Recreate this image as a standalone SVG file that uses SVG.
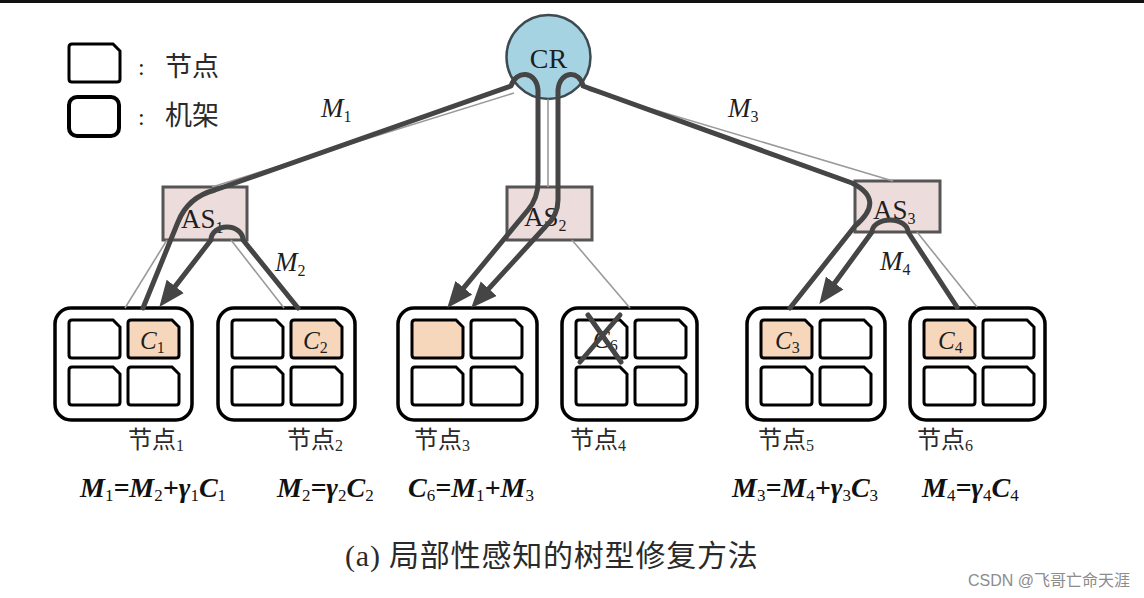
<svg xmlns="http://www.w3.org/2000/svg" width="1144" height="598" viewBox="0 0 1144 598">
  <defs>
    <style>
      .rack{fill:#fff;stroke:#000;stroke-width:3.5}
      .nd{stroke:#000;stroke-width:3}
      .as{fill:#eddcdc;stroke:#555;stroke-width:3}
      .thin{stroke:#9a9a9a;stroke-width:1.6;fill:none}
      .thick{stroke:#454545;stroke-width:5;fill:none;stroke-linejoin:round;stroke-linecap:round}
      .arr{marker-end:url(#ah)}
      .serif{font-family:"Liberation Serif","Noto Sans CJK SC",serif;fill:#1e1e1e}
      .it{font-style:italic}
      .sub{font-size:16px;font-style:normal}
      .cjk{font-family:"Liberation Serif","Noto Sans CJK SC",sans-serif;fill:#2a2a2a}
      .fx{font-family:"Liberation Serif",serif;font-size:28px;font-style:italic;font-weight:bold;fill:#111}
      .fx .s{font-size:17px;font-style:normal;font-weight:normal}
    </style>
    <!-- storage node: square corners except the clipped top-right -->
    <path id="node" d="M0,3 Q0,0 3,0 L44,0 L51,7 L51,35 Q51,38 48,38 L3,38 Q0,38 0,35 Z"/>
    <marker id="ah" markerUnits="userSpaceOnUse" markerWidth="26" markerHeight="22" viewBox="0 0 24 20" refX="10" refY="10" orient="auto">
      <path d="M0,0 L24,10 L0,20 Z" fill="#454545"/>
    </marker>
  </defs>

  <rect x="0" y="0" width="1144" height="598" fill="#fff"/>
  <rect x="0" y="0" width="1144" height="3" fill="#111"/>

  <!-- legend -->
  <g id="legend">
    <use href="#node" class="nd" x="69" y="44" fill="#fff"/>
    <rect x="69" y="97" width="50" height="39" rx="8" fill="#fff" stroke="#000" stroke-width="4"/>
    <text x="138" y="75" class="serif" font-size="24">:</text>
    <text x="165" y="76" class="cjk" font-size="27">节点</text>
    <text x="138" y="125" class="serif" font-size="24">:</text>
    <text x="165" y="125" class="cjk" font-size="27">机架</text>
  </g>

  <!-- core router -->
  <g id="cr">
    <circle cx="548.5" cy="57" r="42" fill="#a6d3e2" stroke="#3d4a50" stroke-width="2.5"/>
    <text x="548.5" y="68" text-anchor="middle" class="serif" font-size="28">CR</text>
  </g>

  <!-- aggregation switches -->
  <g id="as1">
    <rect x="163" y="187" width="84" height="53" class="as"/>
    <text x="181" y="228" class="serif" font-size="27">AS<tspan class="sub" font-size="18" dy="5">1</tspan></text>
  </g>
  <g id="as2">
    <rect x="507" y="187" width="85" height="53" class="as"/>
    <text x="524" y="226" class="serif" font-size="27">AS<tspan class="sub" font-size="18" dy="5">2</tspan></text>
  </g>
  <g id="as3">
    <rect x="855" y="181" width="85" height="51" class="as"/>
    <text x="873" y="219" class="serif" font-size="27">AS<tspan class="sub" font-size="18" dy="5">3</tspan></text>
  </g>

  <!-- racks with four nodes each -->
  <g id="rack1">
    <rect x="55" y="308" width="137" height="112" rx="16" class="rack"/>
    <use href="#node" class="nd" x="69" y="320" fill="#fff"/>
    <use href="#node" class="nd" x="128" y="320" fill="#f7d7bb"/>
    <use href="#node" class="nd" x="69" y="367" fill="#fff"/>
    <use href="#node" class="nd" x="128" y="367" fill="#fff"/>
    <text x="140" y="349" class="serif it" font-size="25">C<tspan class="sub" dy="4">1</tspan></text>
  </g>
  <g id="rack2">
    <rect x="218" y="308" width="137" height="112" rx="16" class="rack"/>
    <use href="#node" class="nd" x="232" y="320" fill="#fff"/>
    <use href="#node" class="nd" x="291" y="320" fill="#f7d7bb"/>
    <use href="#node" class="nd" x="232" y="367" fill="#fff"/>
    <use href="#node" class="nd" x="291" y="367" fill="#fff"/>
    <text x="303" y="349" class="serif it" font-size="25">C<tspan class="sub" dy="4">2</tspan></text>
  </g>
  <g id="rack3">
    <rect x="398" y="308" width="139" height="112" rx="16" class="rack"/>
    <use href="#node" class="nd" x="412" y="320" fill="#f7d7bb"/>
    <use href="#node" class="nd" x="471" y="320" fill="#fff"/>
    <use href="#node" class="nd" x="412" y="367" fill="#fff"/>
    <use href="#node" class="nd" x="471" y="367" fill="#fff"/>
  </g>
  <g id="rack4">
    <rect x="562" y="308" width="135" height="112" rx="16" class="rack"/>
    <use href="#node" class="nd" x="576" y="320" fill="#fff"/>
    <use href="#node" class="nd" x="635" y="320" fill="#fff"/>
    <use href="#node" class="nd" x="576" y="367" fill="#fff"/>
    <use href="#node" class="nd" x="635" y="367" fill="#fff"/>
    <text x="593" y="348" class="serif it" font-size="25">C<tspan class="sub" font-size="18" dy="3">6</tspan></text>
    <path d="M588,315 L621,362 M620,315 L580,362" stroke="#454545" stroke-width="5" stroke-linecap="round" fill="none"/>
  </g>
  <g id="rack5">
    <rect x="747" y="308" width="138" height="112" rx="16" class="rack"/>
    <use href="#node" class="nd" x="761" y="320" fill="#f7d7bb"/>
    <use href="#node" class="nd" x="820" y="320" fill="#fff"/>
    <use href="#node" class="nd" x="761" y="367" fill="#fff"/>
    <use href="#node" class="nd" x="820" y="367" fill="#fff"/>
    <text x="775" y="349" class="serif it" font-size="25">C<tspan class="sub" dy="4">3</tspan></text>
  </g>
  <g id="rack6">
    <rect x="910" y="308" width="135" height="112" rx="16" class="rack"/>
    <use href="#node" class="nd" x="924" y="320" fill="#f7d7bb"/>
    <use href="#node" class="nd" x="983" y="320" fill="#fff"/>
    <use href="#node" class="nd" x="924" y="367" fill="#fff"/>
    <use href="#node" class="nd" x="983" y="367" fill="#fff"/>
    <text x="938" y="349" class="serif it" font-size="25">C<tspan class="sub" dy="4">4</tspan></text>
  </g>

  <!-- links: thin tree edges and the thick repair flows -->
  <g id="connectors">
    <path class="thin" d="M514,93 L212,187"/>
    <path class="thin" d="M548,99 L548,187"/>
    <path class="thin" d="M588,90 L893,181"/>
    <path class="thin" d="M167,240 L125,308"/>
    <path class="thin" d="M231,240 L284,308"/>
    <path class="thin" d="M572,240 L630,308"/>
    <path class="thin" d="M917,232 L977,307"/>

    <!-- M2: node 2 to node 1 through AS1 -->
    <path class="thick arr" d="M298,308 L243,240 A16,13 0 0 0 211,240 L168.6,294.9"/>
    <!-- M1: node 1 to node 3 through AS1, CR, AS2 -->
    <path class="thick arr" d="M143,308 L178,222 Q188,197 215,190 L511,86 C516,70 536,70 538,90 L538,182 Q538,198 528,210 L456.9,296.2"/>
    <!-- M4: node 6 to node 5 through AS3 -->
    <path class="thick arr" d="M957,307 L908,232 A18,12 0 0 0 872,232 L828.3,291.8"/>
    <!-- M3: node 5 to node 3 through AS3, CR, AS2 -->
    <path class="thick arr" d="M790,308 L855,226 Q886,200 852,183 L583,86 C580,70 560,70 558,90 L558,200 Q558,215 546,226 L481.4,296.7"/>
  </g>

  <!-- flow labels -->
  <g id="flow-labels" class="serif it" font-size="27">
    <text x="321" y="117">M<tspan class="sub" font-size="17" dy="5">1</tspan></text>
    <text x="728" y="117">M<tspan class="sub" font-size="17" dy="5">3</tspan></text>
    <text x="275" y="271">M<tspan class="sub" font-size="17" dy="5">2</tspan></text>
    <text x="880" y="270">M<tspan class="sub" font-size="17" dy="5">4</tspan></text>
  </g>

  <!-- node names -->
  <g id="node-names" class="cjk" font-size="24">
    <text x="128" y="448">节点<tspan class="sub" dy="3">1</tspan></text>
    <text x="287" y="448">节点<tspan class="sub" dy="3">2</tspan></text>
    <text x="414" y="448">节点<tspan class="sub" dy="3">3</tspan></text>
    <text x="570" y="448">节点<tspan class="sub" dy="3">4</tspan></text>
    <text x="758" y="448">节点<tspan class="sub" dy="3">5</tspan></text>
    <text x="917" y="448">节点<tspan class="sub" dy="3">6</tspan></text>
  </g>

  <!-- partial results computed at each node -->
  <g id="formulas">
    <text x="80" y="497" class="fx">M<tspan class="s" dy="4">1</tspan><tspan dy="-4">=M</tspan><tspan class="s" dy="4">2</tspan><tspan dy="-4">+γ</tspan><tspan class="s" dy="4">1</tspan><tspan dy="-4">C</tspan><tspan class="s" dy="4">1</tspan></text>
    <text x="277" y="497" class="fx">M<tspan class="s" dy="4">2</tspan><tspan dy="-4">=γ</tspan><tspan class="s" dy="4">2</tspan><tspan dy="-4">C</tspan><tspan class="s" dy="4">2</tspan></text>
    <text x="408" y="497" class="fx">C<tspan class="s" dy="4">6</tspan><tspan dy="-4">=M</tspan><tspan class="s" dy="4">1</tspan><tspan dy="-4">+M</tspan><tspan class="s" dy="4">3</tspan></text>
    <text x="732" y="497" class="fx">M<tspan class="s" dy="4">3</tspan><tspan dy="-4">=M</tspan><tspan class="s" dy="4">4</tspan><tspan dy="-4">+γ</tspan><tspan class="s" dy="4">3</tspan><tspan dy="-4">C</tspan><tspan class="s" dy="4">3</tspan></text>
    <text x="922" y="497" class="fx">M<tspan class="s" dy="4">4</tspan><tspan dy="-4">=γ</tspan><tspan class="s" dy="4">4</tspan><tspan dy="-4">C</tspan><tspan class="s" dy="4">4</tspan></text>
  </g>

  <text id="caption" x="345" y="566" class="cjk" font-size="30" letter-spacing="0.8">(a) 局部性感知的树型修复方法</text>
  <text id="mark" x="968" y="586" font-family="Liberation Sans,Noto Sans CJK SC,sans-serif" font-size="16" fill="#8c8c8c">CSDN @飞哥亡命天涯</text>
</svg>
